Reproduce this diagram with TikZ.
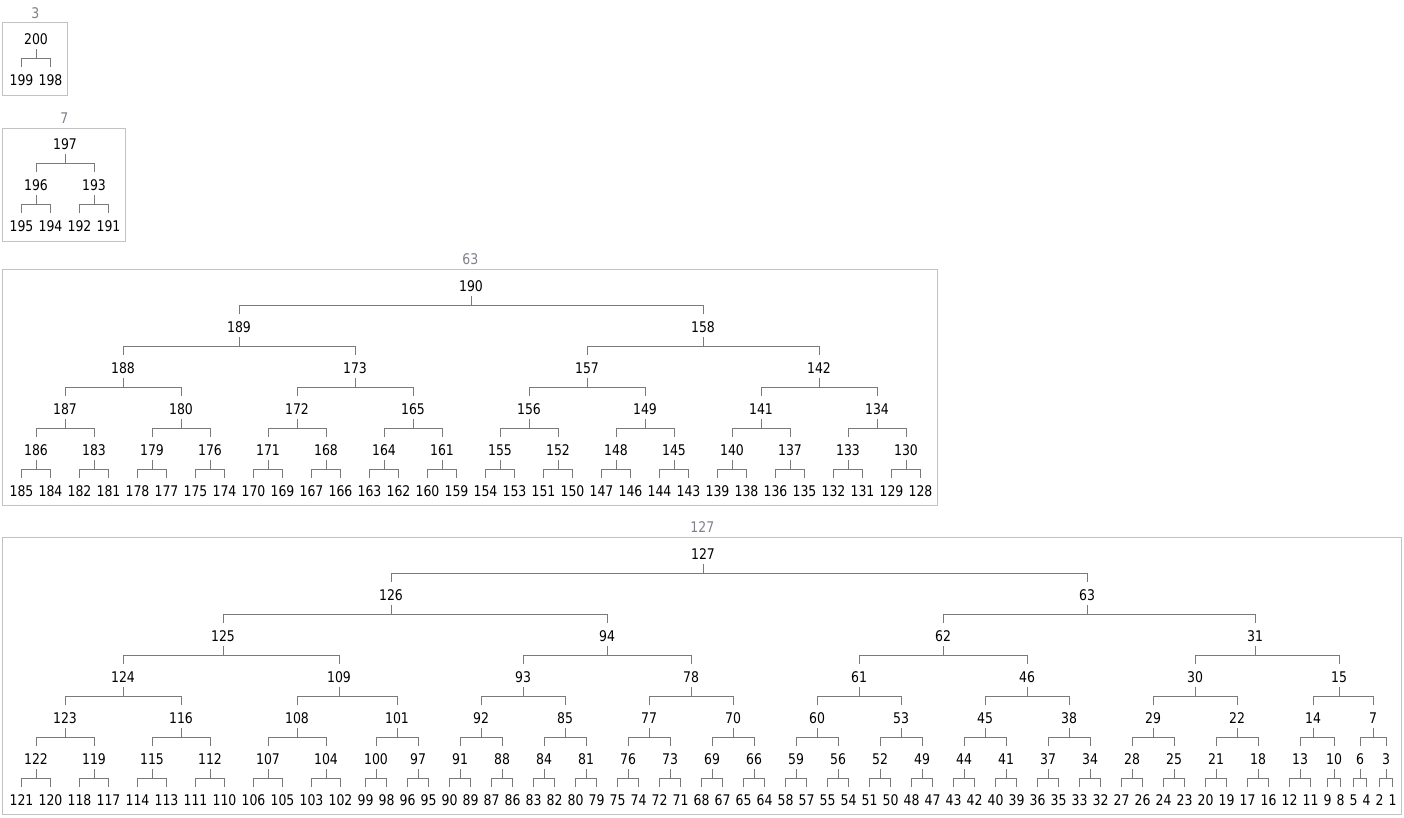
\documentclass[tikz,border=0pt]{standalone}
\usepackage{fontspec}
\setmainfont{DejaVu Sans Condensed}[FakeStretch=0.945]
\usepackage{xcolor}
\usetikzlibrary{calc,positioning,fit}

\definecolor{linkgray}{RGB}{122,122,122}
\definecolor{boxgray}{RGB}{194,194,194}
\definecolor{capgray}{RGB}{128,128,140}

% #1 tree name, #2 leaf depth, #3 first leaf, #4 leaves, #5 upper levels (depth/{labels})
% a parent sits over the middle of the leaves below it
\newcommand{\drawheap}[5]{%
  \foreach \lab [count=\i from 0] in {#4}{%
    \pgfmathsetmacro\lw{\lab<10 ? 8 : (\lab<100 ? 16 : 24)}
    \ifnum\i=0
      \node[num,minimum width=\lw pt] (#1-#2-0) at (#3) {\lab};
    \else
      \pgfmathtruncatemacro\prv{\i-1}
      \node[num,minimum width=\lw pt,right=5pt of #1-#2-\prv] (#1-#2-\i) {\lab};
    \fi}
  \foreach \d/\labs in {#5}{%
    \pgfmathtruncatemacro\chd{\d+1}
    \pgfmathtruncatemacro\reach{2^(#2-\d)}
    \pgfmathsetmacro\rise{41*(#2-\d)}
    \foreach \lab [count=\i from 0] in \labs {%
      \pgfmathtruncatemacro\lft{2*\i}
      \pgfmathtruncatemacro\rgt{2*\i+1}
      \pgfmathtruncatemacro\fst{\i*\reach}
      \pgfmathtruncatemacro\lst{(\i+1)*\reach-1}
      \node[num] (#1-\d-\i) at ($(#1-#2-\fst.west)!0.5!(#1-#2-\lst.east)+(0,-\rise)$) {\lab};
      \draw[link] ([yshift=-10pt]#1-\d-\i.center) -- ([yshift=-19.3pt]#1-\d-\i.center);
      \draw[link] ([yshift=13.3pt]#1-\chd-\lft.center) |- ([yshift=-19.3pt]#1-\d-\i.center)
        -| ([yshift=13.3pt]#1-\chd-\rgt.center);
    }}%
}

\begin{document}
\begin{tikzpicture}[
  x=1pt,y=-1pt,
  num/.style={inner sep=0pt,outer sep=0pt,font=\fontsize{14.67}{16}\selectfont,text=black},
  link/.style={draw=linkgray,line width=1pt},
  heapbox/.style={draw=boxgray,line width=1pt,inner xsep=6.1pt,inner ysep=10.05pt,
                  xshift=-0.7pt,yshift=0.9pt},
  caption/.style={inner sep=0pt,font=\fontsize{14.67}{16}\selectfont,text=capgray}
]
\useasboundingbox (0,0) rectangle (1404,818);
\fill[white] (0,0) rectangle (1404,818);

% size 3
\drawheap{ta}{1}{21.5,80.5}{199,198}{0/{200}}
\node[heapbox,fit=(ta-0-0)(ta-1-0)(ta-1-1),
      label={[caption,label distance=3.95pt]above:3}] (ta-box) {};

% size 7
\drawheap{tb}{2}{21.5,226.5}{195,194,192,191}{1/{196,193},0/{197}}
\node[heapbox,fit=(tb-0-0)(tb-2-0)(tb-2-3),
      label={[caption,label distance=3.95pt]above:7}] (tb-box) {};

% size 63
\drawheap{tc}{5}{21.5,491}{185,184,182,181,178,177,175,174,170,169,167,166,163,162,160,159,
  154,153,151,150,147,146,144,143,139,138,136,135,132,131,129,128}
  {4/{186,183,179,176,171,168,164,161,155,152,148,145,140,137,133,130},
   3/{187,180,172,165,156,149,141,134},
   2/{188,173,157,142},
   1/{189,158},
   0/{190}}
\node[heapbox,fit=(tc-0-0)(tc-5-0)(tc-5-31),
      label={[caption,label distance=3.95pt]above:63}] (tc-box) {};

% size 127
\drawheap{td}{6}{21.5,800}{121,120,118,117,114,113,111,110,106,105,103,102,
  99,98,96,95,90,89,87,86,83,82,80,79,75,74,72,71,68,67,65,64,
  58,57,55,54,51,50,48,47,43,42,40,39,36,35,33,32,27,26,24,23,20,19,17,16,12,11,9,8,5,4,2,1}
  {5/{122,119,115,112,107,104,100,97,91,88,84,81,76,73,69,66,59,56,52,49,44,41,37,34,28,25,21,18,13,10,6,3},
   4/{123,116,108,101,92,85,77,70,60,53,45,38,29,22,14,7},
   3/{124,109,93,78,61,46,30,15},
   2/{125,94,62,31},
   1/{126,63},
   0/{127}}
\node[heapbox,fit=(td-0-0)(td-6-0)(td-6-63),
      label={[caption,label distance=3.95pt]above:127}] (td-box) {};
\end{tikzpicture}
\end{document}
